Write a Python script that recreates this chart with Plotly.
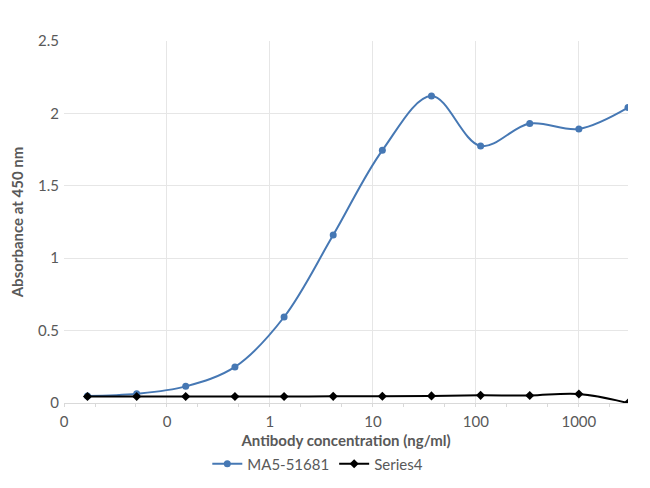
import plotly.graph_objects as go

conc = [0.0169, 0.0508, 0.152, 0.457, 1.372, 4.115, 12.35, 37.04, 111.1, 333.3, 1000, 3000]
ma5 = [0.048, 0.064, 0.115, 0.249, 0.594, 1.16, 1.745, 2.12, 1.775, 1.93, 1.893, 2.04]
series4 = [0.045, 0.045, 0.045, 0.045, 0.045, 0.046, 0.047, 0.049, 0.053, 0.052, 0.062, 0.0]
tick_vals = [0.01, 0.1, 1, 10, 100, 1000]
tick_text = ["0", "0", "1", "10", "100", "1000"]

FONT = "Lato"
GRAY = "#595959"
GRID = "#e6e6e6"

fig = go.Figure()
fig.add_trace(go.Scatter(
    x=conc, y=ma5, name="MA5-51681", mode="lines+markers",
    line=dict(color="#4678B4", width=2, shape="spline", smoothing=1),
    marker=dict(symbol="circle", size=7, color="#4678B4"),
))
fig.add_trace(go.Scatter(
    x=conc, y=series4, name="Series4", mode="lines+markers",
    line=dict(color="#000000", width=2, shape="spline", smoothing=1),
    marker=dict(symbol="diamond", size=7, color="#000000"),
))

fig.update_layout(
    width=650, height=488,
    margin=dict(l=56, r=30, t=33, b=93),
    paper_bgcolor="white", plot_bgcolor="white",
    font=dict(family=FONT, size=15, color=GRAY),
    showlegend=True,
    legend=dict(orientation="h", x=0.45, xanchor="center", y=-0.1685, yanchor="middle",
                font=dict(size=15, color=GRAY), itemwidth=30, tracegroupgap=0),
    xaxis=dict(
        type="log", range=[-2, 3.4771], automargin=False,
        tickvals=tick_vals, ticktext=tick_text,
        showgrid=True, gridcolor=GRID, gridwidth=1,
        showline=True, linecolor="#d9d9d9", linewidth=1,
        ticks="", tickfont=dict(size=15, color=GRAY), ticklabelstandoff=5,
        minor=dict(ticks="outside", ticklen=3, tickcolor="#d9d9d9", showgrid=False),
        zeroline=False,
        title=dict(text="<b>Antibody concentration (ng/ml)</b>", font=dict(size=15, color=GRAY), standoff=6),
    ),
    yaxis=dict(
        range=[0, 2.5], dtick=0.5, automargin=False,
        showgrid=True, gridcolor=GRID, gridwidth=1,
        showline=False, zeroline=False, ticks="",
        tickfont=dict(size=15, color=GRAY), ticklabelstandoff=4,
        title=dict(text="<b>Absorbance at 450 nm</b>", font=dict(size=15, color=GRAY), standoff=17),
    ),
)

fig.write_html("out.html")
